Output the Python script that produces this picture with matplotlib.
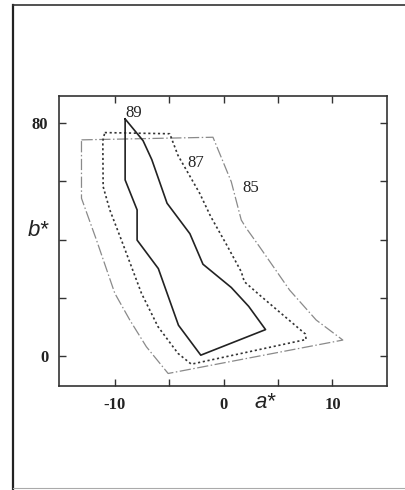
import matplotlib
matplotlib.use("Agg")
import matplotlib.pyplot as plt
from matplotlib.lines import Line2D

# Contour "89" (solid)
a89 = [-9.05, -7.4, -6.6, -5.2, -3.1, -1.9, 0.7, 2.3, 3.85, -2.1, -4.15, -6.0, -7.95, -7.95, -9.05, -9.05]
b89 = [81.5, 74.0, 67.5, 52.5, 42.0, 31.5, 23.5, 17.0, 9.0, 0.2, 10.5, 30.0, 39.8, 50.2, 60.5, 81.5]

# Contour "87" (dotted)
a87 = [-10.92, -4.95, -4.2, -2.2, -1.2, 0.3, 1.62, 1.9, 3.3, 7.5, 7.58, -2.97, -4.19, -6.03, -7.55, -9.39, -10.46, -11.07, -11.1, -10.92]
b87 = [76.8, 76.4, 69.0, 55.9, 48.0, 38.0, 28.9, 25.5, 20.9, 7.5, 5.6, -2.9, 0.8, 10.0, 21.5, 39.8, 50.2, 58.2, 74.0, 76.8]

# Contour "85" (dash-dot)
a85 = [-13.06, -0.98, 0.7, 1.62, 2.08, 3.3, 6.06, 8.5, 10.95, -5.1, -7.1, -8.62, -10.0, -11.68, -13.06, -13.06]
b85 = [74.3, 75.2, 59.9, 46.7, 43.9, 37.5, 22.6, 12.3, 5.4, -6.1, 3.1, 12.3, 21.5, 39.8, 54.2, 74.3]

labels = ["89", "87", "85"]
label_a = [-8.3, -2.6, 2.5]
label_b = [83.5, 66.2, 57.6]

xticks = [-10, -5, 0, 5, 10]
xticklabels = ["-10", "", "0", "", "10"]
yticks = [0, 20, 40, 60, 80]
yticklabels = ["0", "", "", "", "80"]

fig = plt.figure(figsize=(4.06, 4.90), dpi=100)
ax = fig.add_axes([0.146, 0.2129, 0.807, 0.5918])

ax.plot(a85, b85, color="#8a8a8a", lw=0.9, linestyle=(0, (9, 2, 1.2, 2)))
ax.plot(a87, b87, color="#333333", lw=1.2, linestyle=(0, (1.3, 1.6)))
ax.plot(a89, b89, color="#222222", lw=1.2)

for t, x, y in zip(labels, label_a, label_b):
    ax.text(x, y, t, family="Liberation Serif", fontsize=12, color="#222222",
            ha="center", va="center")

ax.set_xlim(-15.1, 15.0)
ax.set_ylim(-10.3, 89.5)
ax.set_xticks(xticks)
ax.set_xticklabels(xticklabels, family="Liberation Serif", fontsize=12, fontweight="bold")
ax.set_yticks(yticks)
ax.set_yticklabels(yticklabels, family="Liberation Serif", fontsize=12, fontweight="bold")
ax.tick_params(direction="in", length=5, width=1.0, top=True, right=True,
               color="#333333", labelcolor="#222222")
ax.tick_params(axis="x", pad=8)
ax.tick_params(axis="y", pad=8)
for s in ax.spines.values():
    s.set_color("#333333")
    s.set_linewidth(1.2)

fig.text(38 / 406, 1 - 230 / 490, "b*", family="Liberation Sans", style="italic",
         fontsize=16, ha="center", va="center", color="#222222")
fig.text(265 / 406, 1 - 402 / 490, "a*", family="Liberation Sans", style="italic",
         fontsize=16, ha="center", va="center", color="#222222")

# page border from the scan
fig.add_artist(Line2D([13 / 406, 13 / 406], [0, 1 - 5 / 490], transform=fig.transFigure,
                      color="#222222", lw=1.6))
fig.add_artist(Line2D([13 / 406, 1], [1 - 5 / 490, 1 - 5 / 490], transform=fig.transFigure,
                      color="#333333", lw=1.2))
fig.add_artist(Line2D([13 / 406, 1], [1 - 488 / 490, 1 - 488 / 490], transform=fig.transFigure,
                      color="#aaaaaa", lw=0.8))

fig.savefig("out.png", dpi=100)
